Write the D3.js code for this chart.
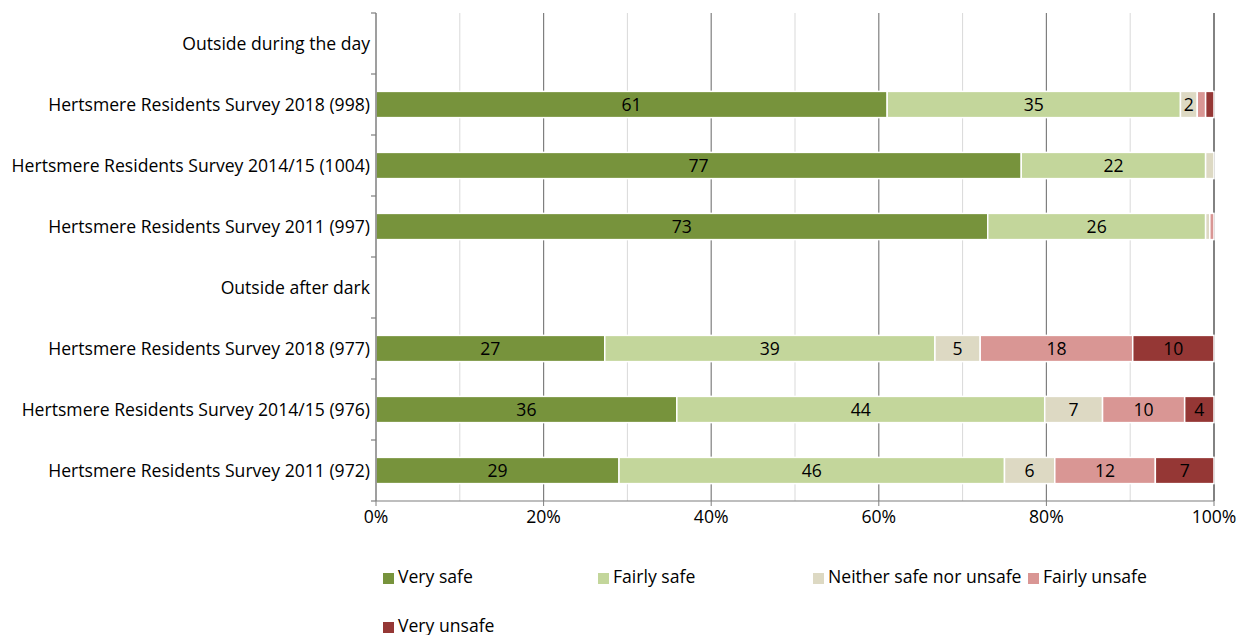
<!DOCTYPE html>
<html><head><meta charset="utf-8">
<script src="https://cdn.jsdelivr.net/npm/d3@7"></script>
<style>body{margin:0;background:#fff;} text{font-family:"Open Sans", sans-serif;}</style>
</head><body><svg id="c" width="1248" height="635"></svg>
<script>
const categories = [
  "Outside during the day",
  "Hertsmere Residents Survey 2018 (998)",
  "Hertsmere Residents Survey 2014/15 (1004)",
  "Hertsmere Residents Survey 2011 (997)",
  "Outside after dark",
  "Hertsmere Residents Survey 2018 (977)",
  "Hertsmere Residents Survey 2014/15 (976)",
  "Hertsmere Residents Survey 2011 (972)"
];
const seriesNames = ["Very safe","Fairly safe","Neither safe nor unsafe","Fairly unsafe","Very unsafe"];
const verySafe     = [0, 61, 77, 73, 0, 27.3, 35.9, 29];
const fairlySafe   = [0, 35, 22, 26, 0, 39.4, 43.9, 46];
const neither      = [0, 2, 1, 0.5, 0, 5.4, 6.9, 6];
const fairlyUnsafe = [0, 1, 0, 0.5, 0, 18.2, 9.8, 12];
const veryUnsafe   = [0, 1, 0, 0, 0, 9.7, 3.5, 7];
const tickLabels = ["0%","20%","40%","60%","80%","100%"];
const colors = ["#77933c","#c3d69b","#ddd9c3","#d99694","#953735"];

const series = [verySafe, fairlySafe, neither, fairlyUnsafe, veryUnsafe];
const rows = categories.map((c,i)=>{const o={cat:c}; seriesNames.forEach((s,j)=>o[s]=series[j][i]); return o;});
const stack = d3.stack().keys(seriesNames)(rows);

const svg = d3.select("#c");
const L=376, R=1214, T=13, B=501;
const FS=17.6;
const x = d3.scaleLinear().domain([0,100]).range([L,R]);
const y = d3.scaleBand().domain(categories).range([T,B]).paddingInner(0.57).paddingOuter(0.285);
const yb = d3.scaleBand().domain(categories).range([T,B]);

// minor gridlines
svg.append("g").selectAll("line").data(d3.range(10,100,20)).join("line")
  .attr("x1",d=>x(d)).attr("x2",d=>x(d)).attr("y1",T).attr("y2",B)
  .attr("stroke","#d9d9d9").attr("stroke-width",1);
// major gridlines
svg.append("g").selectAll("line").data(d3.range(20,101,20)).join("line")
  .attr("x1",d=>x(d)).attr("x2",d=>x(d)).attr("y1",T).attr("y2",B)
  .attr("stroke",d=>d===100?"#595959":"#7f7f7f").attr("stroke-width",d=>d===100?1.5:1.2);

// bars
const g = svg.append("g");
stack.forEach((s,j)=>{
  g.append("g").selectAll("rect").data(s.filter(d=>d[1]-d[0]>0)).join("rect")
    .attr("x",d=>x(d[0])).attr("width",d=>x(d[1])-x(d[0]))
    .attr("y",d=>y(d.data.cat)).attr("height",y.bandwidth())
    .attr("fill",colors[j]).attr("stroke","#fff").attr("stroke-width",1.5);
  g.append("g").selectAll("text").data(s.filter(d=>d[1]-d[0]>=2)).join("text")
    .attr("x",d=>(x(d[0])+x(d[1]))/2).attr("y",d=>y(d.data.cat)+y.bandwidth()/2)
    .attr("dy","0.36em").attr("text-anchor","middle").attr("font-size",FS).attr("fill","#000")
    .text(d=>Math.round(d[1]-d[0]));
});

// left axis
svg.append("line").attr("x1",L).attr("x2",L).attr("y1",T).attr("y2",B).attr("stroke","#7f7f7f").attr("stroke-width",1.5);
svg.append("g").selectAll("line").data(d3.range(categories.length+1)).join("line")
  .attr("x1",L-5).attr("x2",L).attr("y1",i=>T+i*yb.step()).attr("y2",i=>T+i*yb.step())
  .attr("stroke","#7f7f7f").attr("stroke-width",1.2);
svg.append("g").selectAll("text").data(categories).join("text")
  .attr("x",L-6).attr("y",d=>yb(d)+yb.bandwidth()/2).attr("dy","0.36em")
  .attr("text-anchor","end").attr("font-size",FS).attr("fill","#000").text(d=>d);

// bottom axis
svg.append("line").attr("x1",L).attr("x2",R).attr("y1",B).attr("y2",B).attr("stroke","#7f7f7f").attr("stroke-width",1.2);
svg.append("g").selectAll("line").data(d3.range(0,101,20)).join("line")
  .attr("x1",d=>x(d)).attr("x2",d=>x(d)).attr("y1",B).attr("y2",B+5).attr("stroke","#7f7f7f");
svg.append("g").selectAll("text").data(tickLabels).join("text")
  .attr("x",(d,i)=>x(i*20)).attr("y",B+16).attr("dy","0.36em").attr("text-anchor","middle")
  .attr("font-size",FS).attr("fill","#000").text(d=>d);

// legend
const leg = svg.append("g");
seriesNames.forEach((s,i)=>{
  const col=i%4, row=Math.floor(i/4);
  const lx=383+col*215, ly=577+row*49;
  leg.append("rect").attr("x",lx).attr("y",ly-4).attr("width",11).attr("height",11).attr("fill",colors[i]);
  leg.append("text").attr("x",lx+15).attr("y",ly).attr("dy","0.36em").attr("font-size",FS).attr("fill","#000").text(s);
});
</script></body></html>
